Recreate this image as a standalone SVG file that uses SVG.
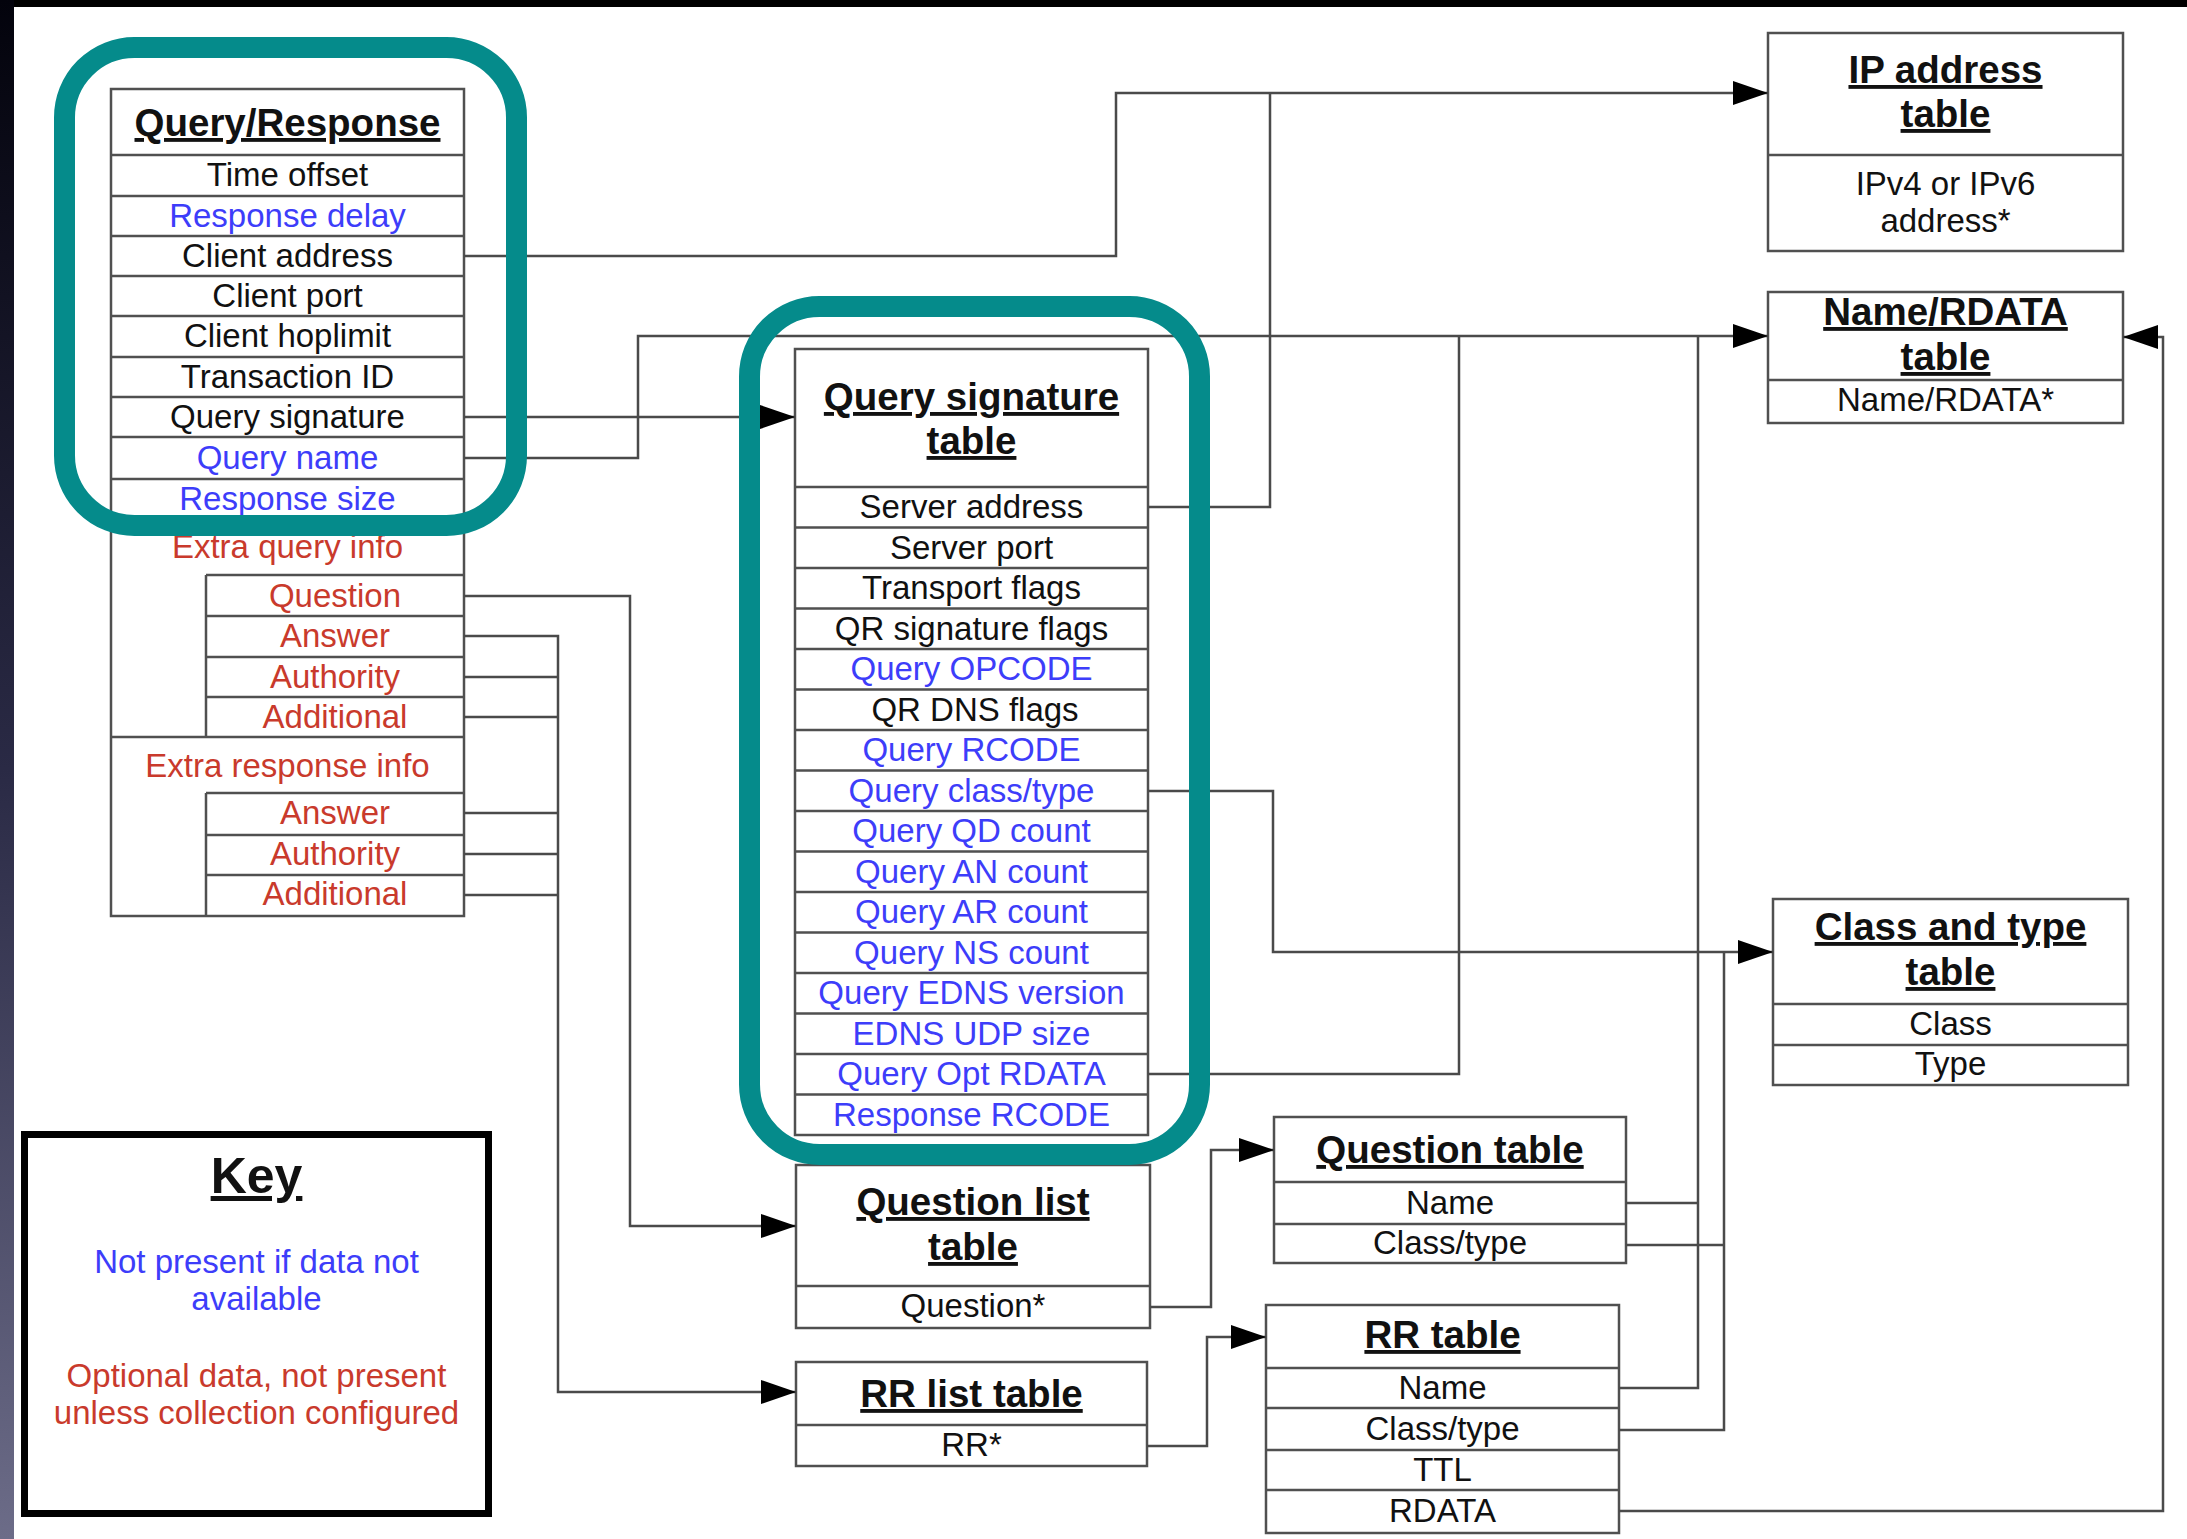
<svg xmlns="http://www.w3.org/2000/svg" width="2187" height="1539" viewBox="0 0 2187 1539">
<style>
text{font-family:"Liberation Sans",Arial,sans-serif;text-anchor:middle}
.t{font-size:33px}
.h{font-size:38.5px;font-weight:bold;text-decoration:underline;fill:#111}
.k{fill:#111}
.b{fill:#3d3dfa}
.r{fill:#c93a2c}
.tb{fill:#fff;stroke:#505050;stroke-width:2.5}
.ln{stroke:#505050;stroke-width:2.5;fill:none}
.cn{stroke:#4a4a4a;stroke-width:2.5;fill:none}
.hl{fill:none;stroke:#058b8b;stroke-width:21}
</style>
<defs>
<linearGradient id="side" x1="0" y1="0" x2="0" y2="1">
<stop offset="0" stop-color="#03030c"/>
<stop offset="0.5" stop-color="#2a2a45"/>
<stop offset="1" stop-color="#6c6c88"/>
</linearGradient>
<marker id="arr" viewBox="0 0 35 24" markerWidth="35" markerHeight="24" refX="35" refY="12" orient="auto" markerUnits="userSpaceOnUse">
<path d="M0,0 L35,12 L0,24 z" fill="#000"/>
</marker>
</defs>
<rect width="2187" height="1539" fill="#fff"/>
<rect x="0" y="0" width="2187" height="7" fill="#000"/>
<rect x="0" y="0" width="14" height="1539" fill="url(#side)"/>

<g id="query-response">
<rect class="tb" x="111" y="89" width="353" height="827"/>
<path class="ln" d="M111,155H464M111,196H464M111,236H464M111,276H464M111,316H464M111,357H464M111,397H464M111,437H464M111,479H464M111,519H464M206,575H464M206,616H464M206,657H464M206,697H464M111,737H464M206,793H464M206,835H464M206,875H464M206,575V737M206,793V916"/>
<text class="h" x="287.5" y="136">Query/Response</text>
<text class="t k" x="287.5" y="186">Time offset</text>
<text class="t b" x="287.5" y="227">Response delay</text>
<text class="t k" x="287.5" y="267">Client address</text>
<text class="t k" x="287.5" y="307">Client port</text>
<text class="t k" x="287.5" y="347">Client hoplimit</text>
<text class="t k" x="287.5" y="388">Transaction ID</text>
<text class="t k" x="287.5" y="428">Query signature</text>
<text class="t b" x="287.5" y="469">Query name</text>
<text class="t b" x="287.5" y="510">Response size</text>
<text class="t r" x="287.5" y="558">Extra query info</text>
<text class="t r" x="335" y="607">Question</text>
<text class="t r" x="335" y="647">Answer</text>
<text class="t r" x="335" y="688">Authority</text>
<text class="t r" x="335" y="728">Additional</text>
<text class="t r" x="287.5" y="777">Extra response info</text>
<text class="t r" x="335" y="824">Answer</text>
<text class="t r" x="335" y="865">Authority</text>
<text class="t r" x="335" y="905">Additional</text>
</g>

<g id="query-signature-table">
<rect class="tb" x="795" y="349" width="353" height="786"/>
<path class="ln" d="M795,487H1148M795,527.5H1148M795,568H1148M795,608.5H1148M795,649H1148M795,689.5H1148M795,730H1148M795,770.5H1148M795,811H1148M795,851.5H1148M795,892H1148M795,932.5H1148M795,973H1148M795,1013.5H1148M795,1054H1148M795,1094.5H1148"/>
<text class="h" x="971.5" y="410">Query signature</text>
<text class="h" x="971.5" y="454">table</text>
<text class="t k" x="971.5" y="518">Server address</text>
<text class="t k" x="971.5" y="558.5">Server port</text>
<text class="t k" x="971.5" y="599">Transport flags</text>
<text class="t k" x="971.5" y="639.5">QR signature flags</text>
<text class="t b" x="971.5" y="680">Query OPCODE</text>
<text class="t k" x="975" y="720.5">QR DNS flags</text>
<text class="t b" x="971.5" y="761">Query RCODE</text>
<text class="t b" x="971.5" y="801.5">Query class/type</text>
<text class="t b" x="971.5" y="842">Query QD count</text>
<text class="t b" x="971.5" y="882.5">Query AN count</text>
<text class="t b" x="971.5" y="923">Query AR count</text>
<text class="t b" x="971.5" y="963.5">Query NS count</text>
<text class="t b" x="971.5" y="1004">Query EDNS version</text>
<text class="t b" x="971.5" y="1044.5">EDNS UDP size</text>
<text class="t b" x="971.5" y="1085">Query Opt RDATA</text>
<text class="t b" x="971.5" y="1125.5">Response RCODE</text>
</g>

<g id="ip-address-table">
<rect class="tb" x="1768" y="33" width="355" height="218"/>
<path class="ln" d="M1768,155H2123"/>
<text class="h" x="1945.5" y="83">IP address</text>
<text class="h" x="1945.5" y="127">table</text>
<text class="t k" x="1945.5" y="195">IPv4 or IPv6</text>
<text class="t k" x="1945.5" y="232">address*</text>
</g>

<g id="name-rdata-table">
<rect class="tb" x="1768" y="292" width="355" height="131"/>
<path class="ln" d="M1768,380H2123"/>
<text class="h" x="1945.5" y="325">Name/RDATA</text>
<text class="h" x="1945.5" y="370">table</text>
<text class="t k" x="1945.5" y="411">Name/RDATA*</text>
</g>

<g id="class-type-table">
<rect class="tb" x="1773" y="899" width="355" height="186"/>
<path class="ln" d="M1773,1004H2128M1773,1045H2128"/>
<text class="h" x="1950.5" y="940">Class and type</text>
<text class="h" x="1950.5" y="985">table</text>
<text class="t k" x="1950.5" y="1035">Class</text>
<text class="t k" x="1950.5" y="1075">Type</text>
</g>

<g id="question-list-table">
<rect class="tb" x="796" y="1165" width="354" height="163"/>
<path class="ln" d="M796,1286H1150"/>
<text class="h" x="973" y="1215">Question list</text>
<text class="h" x="973" y="1260">table</text>
<text class="t k" x="973" y="1317">Question*</text>
</g>

<g id="rr-list-table">
<rect class="tb" x="796" y="1362" width="351" height="104"/>
<path class="ln" d="M796,1425H1147"/>
<text class="h" x="971.5" y="1407">RR list table</text>
<text class="t k" x="971.5" y="1456">RR*</text>
</g>

<g id="question-table">
<rect class="tb" x="1274" y="1117" width="352" height="146"/>
<path class="ln" d="M1274,1182H1626M1274,1224H1626"/>
<text class="h" x="1450" y="1163">Question table</text>
<text class="t k" x="1450" y="1214">Name</text>
<text class="t k" x="1450" y="1254">Class/type</text>
</g>

<g id="rr-table">
<rect class="tb" x="1266" y="1305" width="353" height="228"/>
<path class="ln" d="M1266,1368H1619M1266,1408H1619M1266,1450H1619M1266,1490H1619"/>
<text class="h" x="1442.5" y="1348">RR table</text>
<text class="t k" x="1442.5" y="1399">Name</text>
<text class="t k" x="1442.5" y="1440">Class/type</text>
<text class="t k" x="1442.5" y="1481">TTL</text>
<text class="t k" x="1442.5" y="1522">RDATA</text>
</g>

<g id="connectors">
<path class="cn" d="M464,256H1116V93H1768" marker-end="url(#arr)"/>
<path class="cn" d="M1148,507H1270V93"/>
<path class="cn" d="M464,417H795" marker-end="url(#arr)"/>
<path class="cn" d="M464,458H638V336H1768" marker-end="url(#arr)"/>
<path class="cn" d="M1148,1074H1459V336"/>
<path class="cn" d="M1148,791H1273V952H1773" marker-end="url(#arr)"/>
<path class="cn" d="M1626,1203H1698M1619,1388H1698V336"/>
<path class="cn" d="M1626,1245H1724M1619,1430H1724V952"/>
<path class="cn" d="M1619,1511H2163V337H2123" marker-end="url(#arr)"/>
<path class="cn" d="M464,596H630V1226H796" marker-end="url(#arr)"/>
<path class="cn" d="M464,636H558V1392H796" marker-end="url(#arr)"/>
<path class="cn" d="M464,677H558M464,717H558M464,813H558M464,854H558M464,895H558"/>
<path class="cn" d="M1150,1307H1211V1150H1274" marker-end="url(#arr)"/>
<path class="cn" d="M1147,1446H1207V1337H1266" marker-end="url(#arr)"/>
</g>

<g id="highlights">
<rect class="hl" x="64.5" y="47.5" width="452" height="478" rx="70"/>
<rect class="hl" x="749.5" y="306.5" width="450" height="848" rx="70"/>
</g>

<g id="key">
<rect x="24.5" y="1134.5" width="464" height="379" fill="#fff" stroke="#000" stroke-width="7"/>
<text x="256.5" y="1193" style="font-size:50px;font-weight:bold;text-decoration:underline;fill:#111">Key</text>
<text class="t b" x="256.5" y="1273">Not present if data not</text>
<text class="t b" x="256.5" y="1310">available</text>
<text class="t r" x="256.5" y="1387">Optional data, not present</text>
<text class="t r" x="256.5" y="1424">unless collection configured</text>
</g>
</svg>
